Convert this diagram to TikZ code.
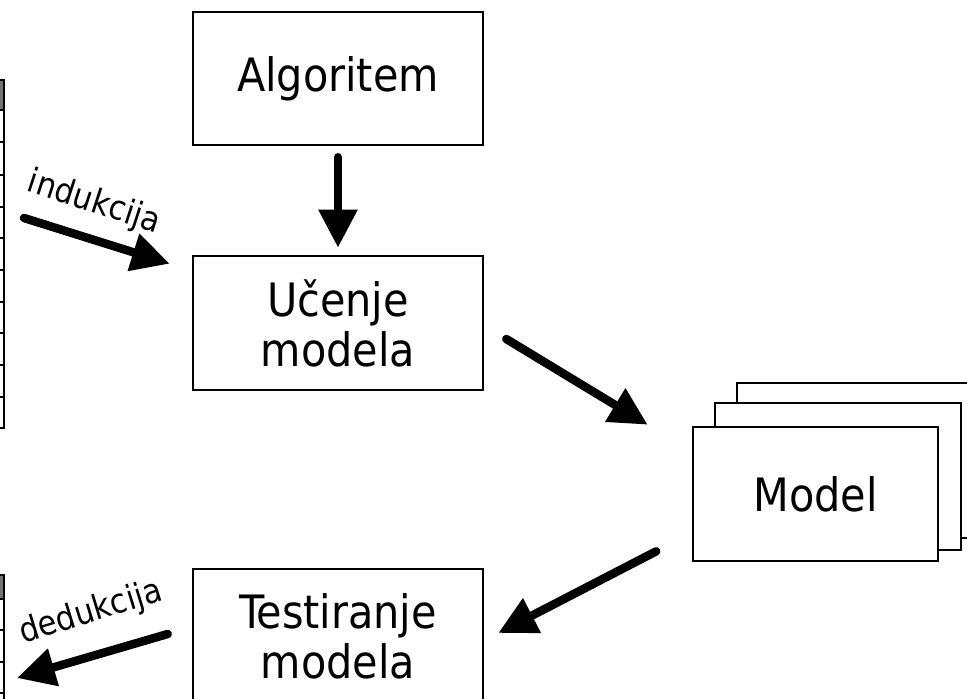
\documentclass[tikz,border=0pt]{standalone}
\usepackage{fontspec}
\setmainfont{DejaVu Sans Condensed}
\usetikzlibrary{arrows.meta}
\begin{document}
\begin{tikzpicture}[x=1pt,y=-1pt,
  box/.style={draw,line width=2.6pt,minimum width=290pt,minimum height=134pt,inner sep=0pt,align=center,font=\fontsize{46}{50}\selectfont},
  mbox/.style={draw,line width=2.6pt,fill=white,inner sep=0pt},
  bigarrow/.style={line width=8.5pt,line cap=round,-{Triangle[width=37pt,length=38pt]}},
  lbl/.style={font=\fontsize{34}{36}\selectfont,inner sep=0pt},
  tbl/.style={line width=2.2pt}]
\clip (0,0) rectangle (967,699);
\fill[white] (0,0) rectangle (967,699);
% left tables (edges)
\fill[black!55] (0,80) rectangle (4,110);
\draw[tbl] (4,79) -- (4,429);
\foreach \y in {80,110,142,175,207,238,270,302,333,365,397,428} \draw[tbl] (0,\y) -- (5,\y);
\fill[black!55] (0,575) rectangle (4,599);
\draw[tbl] (4,574) -- (4,700);
\foreach \y in {575,599,630,662,693} \draw[tbl] (0,\y) -- (5,\y);
% boxes
\node[box,minimum height=133pt] (alg) at (338,78.5) {Algoritem};
\node[box] (uc) at (338,323) {Učenje\\modela};
\node[box] (test) at (338,636) {Testiranje\\modela};
% model stack
\node[mbox,minimum width=246pt,minimum height=155pt] (back) at (860,460.5) {};
\node[mbox,minimum width=246pt,minimum height=147pt] (mid) at (838,476.5) {};
\node[mbox,minimum width=245pt,minimum height=134pt,font=\fontsize{46}{50}\selectfont] (model) at (815.5,494) {Model};
% arrows
\coordinate (indstart) at (24,218);
\coordinate (dedend) at (17,678);
\draw[bigarrow] ([shift={(0,11)}]alg.south) -- ([shift={(0,-7)}]uc.north);
\draw[bigarrow] (indstart) -- ([shift={(-22,9)}]uc.north west);
\draw[bigarrow] ([shift={(22,16)}]uc.east) -- ([shift={(-44,-1)}]model.north west);
\draw[bigarrow] ([shift={(-35.5,-11)}]model.south west) -- ([shift={(14,-3)}]test.east);
\draw[bigarrow] ([shift={(-24,-2)}]test.west) -- (dedend);
% labels
\node[lbl,rotate=-18] (indl) at (94,203) {indukcija};
\node[lbl,rotate=17] (dedl) at (91,613) {dedukcija};
\end{tikzpicture}
\end{document}
